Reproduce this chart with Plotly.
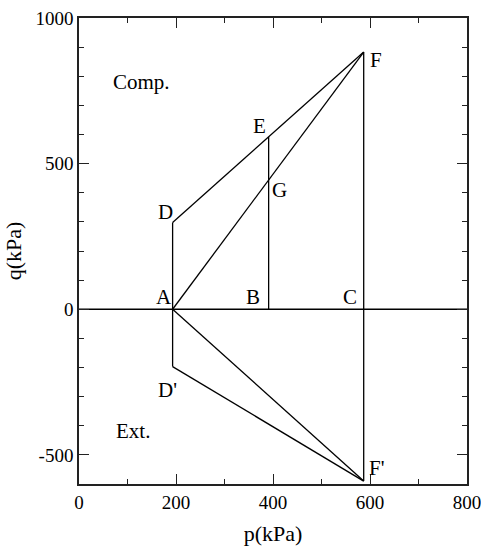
import plotly.graph_objects as go

# Stress points in p-q space (kPa)
point_names = ["A", "B", "C", "D", "D'", "E", "F", "F'", "G"]
p_values = [193, 391, 587, 193, 193, 391, 587, 587, 391]
q_values = [0, 0, 0, 298, -197, 592, 883, -590, 444]

# Stress paths drawn as straight segments between named points
segments = [("D", "D'"), ("D", "F"), ("A", "F"), ("A", "F'"),
            ("D'", "F'"), ("E", "B"), ("F", "F'")]

# Horizontal q = 0 reference line
zero_line_p = [0, 800]
zero_line_q = [0, 0]

# Axis ticks
x_tick_vals = [0, 200, 400, 600, 800]
x_tick_text = ["0", "200", "400", "600", "800"]
y_tick_vals = [-500, 0, 500, 1000]
y_tick_text = ["-500", "0", "500", "1000"]

# Label offsets (pixels) for each point
label_shift = {
    "A": (-9, 12), "B": (-16, 12), "C": (-14, 12), "D": (-7, 10),
    "D'": (-5, -23), "E": (-9, 11), "F": (12, -8), "F'": (13, 13),
    "G": (11, -10),
}

region_labels = [("Comp.", 128, 780), ("Ext.", 111, -418)]

pt = {n: (p, q) for n, p, q in zip(point_names, p_values, q_values)}

fig = go.Figure()

line_style = dict(color="black", width=1.3)
fig.add_trace(go.Scatter(x=zero_line_p, y=zero_line_q, mode="lines",
                         line=line_style, showlegend=False, hoverinfo="skip"))
for a, b in segments:
    fig.add_trace(go.Scatter(x=[pt[a][0], pt[b][0]], y=[pt[a][1], pt[b][1]],
                             mode="lines", line=line_style, showlegend=False,
                             hoverinfo="skip"))

family = "Liberation Serif, Times New Roman, serif"
tick_font = dict(family=family, size=19, color="black")
label_font = dict(family=family, size=21, color="black")
title_font = dict(family=family, size=22, color="black")

for n in point_names:
    dx, dy = label_shift[n]
    fig.add_annotation(x=pt[n][0], y=pt[n][1], text=n, showarrow=False,
                       xshift=dx, yshift=dy, font=label_font)

for text, p, q in region_labels:
    fig.add_annotation(x=p, y=q, text=text, showarrow=False, font=label_font)

axis_common = dict(
    showgrid=False, zeroline=False, showline=True, linecolor="#222",
    linewidth=1.6, mirror="allticks", ticks="inside", ticklen=10,
    tickwidth=1.3, tickcolor="#222", tickfont=tick_font, automargin=False,
    ticklabeloverflow="allow",
    minor=dict(ticks="inside", ticklen=5, tickwidth=1.3, tickcolor="#222",
               dtick=100, tick0=0),
)

fig.update_xaxes(range=[0, 800], tickvals=x_tick_vals, ticktext=x_tick_text,
                 title=dict(text="p(kPa)", font=title_font, standoff=14),
                 **axis_common)
fig.update_yaxes(range=[-600, 1000], tickvals=y_tick_vals, ticktext=y_tick_text,
                 title=dict(text="q(kPa)", font=title_font, standoff=8),
                 **axis_common)

fig.update_layout(
    width=481, height=551,
    margin=dict(l=79, r=14, t=18, b=67),
    plot_bgcolor="white", paper_bgcolor="white",
    font=tick_font,
)

fig.write_html("out.html")
